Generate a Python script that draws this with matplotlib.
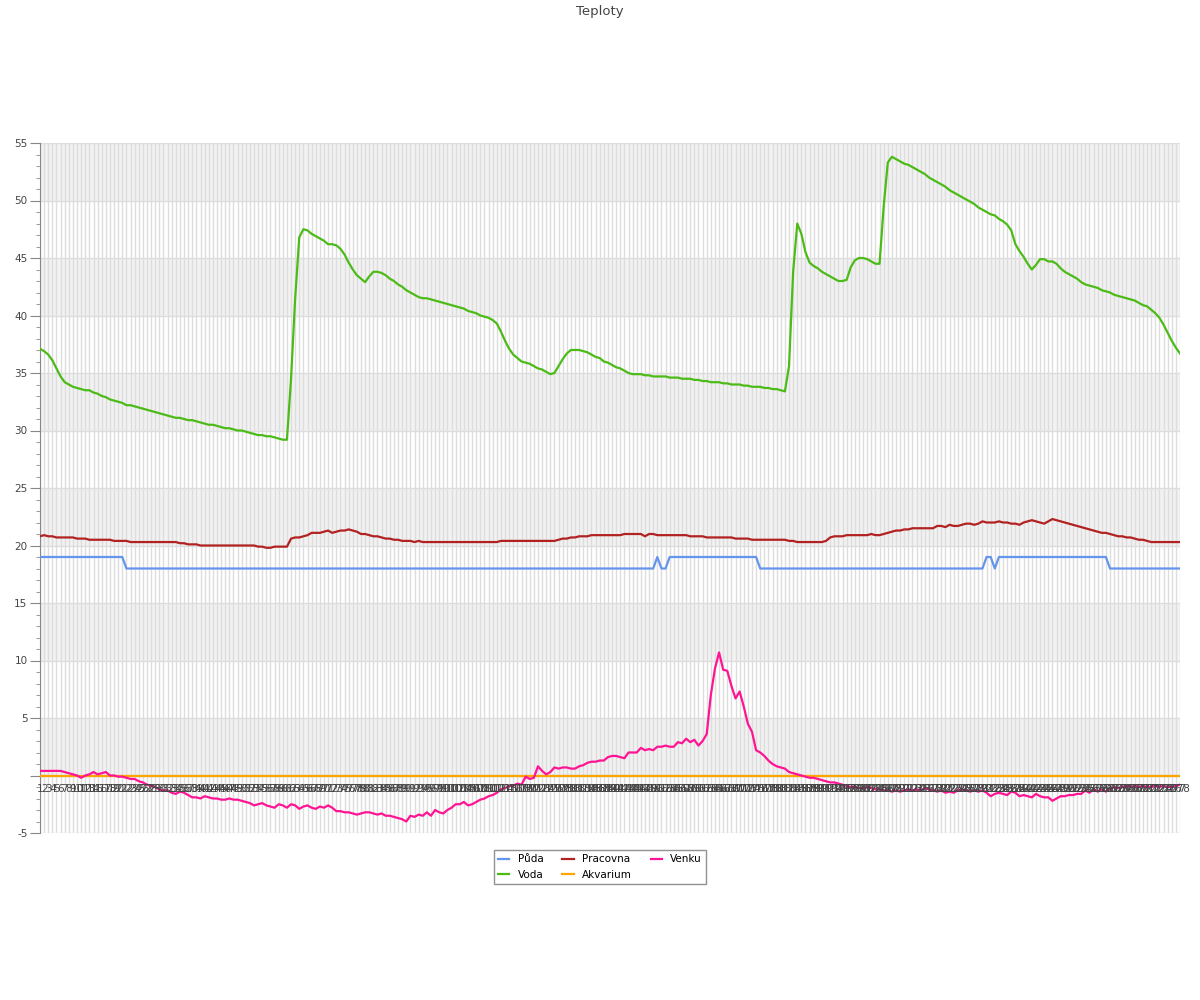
import matplotlib
matplotlib.use("Agg")
import matplotlib.pyplot as plt
from matplotlib import transforms

# categories 1..278 (x axis labels)
labels = [str(i) for i in range(1, 279)]

puda = [19] * 21 + [18] * 129 + [19] + [18] * 2 + [19] * 22 + [18] * 55 + [19] * 2 + [18] + [19] * 27 + [18] * 18

voda = [
    37.1, 36.9, 36.6, 36.1, 35.4, 34.7, 34.2, 34.0, 33.8, 33.7,
    33.6, 33.5, 33.5, 33.3, 33.2, 33.0, 32.9, 32.7, 32.6, 32.5,
    32.4, 32.2, 32.2, 32.1, 32.0, 31.9, 31.8, 31.7, 31.6, 31.5,
    31.4, 31.3, 31.2, 31.1, 31.1, 31.0, 30.9, 30.9, 30.8, 30.7,
    30.6, 30.5, 30.5, 30.4, 30.3, 30.2, 30.2, 30.1, 30.0, 30.0,
    29.9, 29.8, 29.7, 29.6, 29.6, 29.5, 29.5, 29.4, 29.3, 29.2,
    29.2, 34.5, 41.5, 46.8, 47.5, 47.4, 47.1, 46.9, 46.7, 46.5,
    46.2, 46.2, 46.1, 45.8, 45.3, 44.6, 44.0, 43.5, 43.2, 42.9,
    43.4, 43.8, 43.8, 43.7, 43.5, 43.2, 43.0, 42.7, 42.5, 42.2,
    42.0, 41.8, 41.6, 41.5, 41.5, 41.4, 41.3, 41.2, 41.1, 41.0,
    40.9, 40.8, 40.7, 40.6, 40.4, 40.3, 40.2, 40.0, 39.9, 39.8,
    39.6, 39.3, 38.6, 37.8, 37.1, 36.6, 36.3, 36.0, 35.9, 35.8,
    35.6, 35.4, 35.3, 35.1, 34.9, 35.0, 35.6, 36.2, 36.7, 37.0,
    37.0, 37.0, 36.9, 36.8, 36.6, 36.4, 36.3, 36.0, 35.9, 35.7,
    35.5, 35.4, 35.2, 35.0, 34.9, 34.9, 34.9, 34.8, 34.8, 34.7,
    34.7, 34.7, 34.7, 34.6, 34.6, 34.6, 34.5, 34.5, 34.5, 34.4,
    34.4, 34.3, 34.3, 34.2, 34.2, 34.2, 34.1, 34.1, 34.0, 34.0,
    34.0, 33.9, 33.9, 33.8, 33.8, 33.8, 33.7, 33.7, 33.6, 33.6,
    33.5, 33.4, 35.6, 43.8, 48.0, 47.1, 45.5, 44.6, 44.3, 44.1,
    43.8, 43.6, 43.4, 43.2, 43.0, 43.0, 43.1, 44.2, 44.8, 45.0,
    45.0, 44.9, 44.7, 44.5, 44.5, 49.5, 53.3, 53.8, 53.6, 53.4,
    53.2, 53.1, 52.9, 52.7, 52.5, 52.3, 52.0, 51.8, 51.6, 51.4,
    51.2, 50.9, 50.7, 50.5, 50.3, 50.1, 49.9, 49.7, 49.4, 49.2,
    49.0, 48.8, 48.7, 48.4, 48.2, 47.9, 47.4, 46.2, 45.6, 45.1,
    44.5, 44.0, 44.4, 44.9, 44.9, 44.7, 44.7, 44.5, 44.1, 43.8,
    43.6, 43.4, 43.2, 42.9, 42.7, 42.6, 42.5, 42.4, 42.2, 42.1,
    42.0, 41.8, 41.7, 41.6, 41.5, 41.4, 41.3, 41.1, 40.9, 40.8,
    40.5, 40.2, 39.8, 39.2, 38.5, 37.8, 37.2, 36.7,
]

pracovna = [
    20.8, 20.9, 20.8, 20.8, 20.7, 20.7, 20.7, 20.7, 20.7, 20.6,
    20.6, 20.6, 20.5, 20.5, 20.5, 20.5, 20.5, 20.5, 20.4, 20.4,
    20.4, 20.4, 20.3, 20.3, 20.3, 20.3, 20.3, 20.3, 20.3, 20.3,
    20.3, 20.3, 20.3, 20.3, 20.2, 20.2, 20.1, 20.1, 20.1, 20.0,
    20.0, 20.0, 20.0, 20.0, 20.0, 20.0, 20.0, 20.0, 20.0, 20.0,
    20.0, 20.0, 20.0, 19.9, 19.9, 19.8, 19.8, 19.9, 19.9, 19.9,
    19.9, 20.6, 20.7, 20.7, 20.8, 20.9, 21.1, 21.1, 21.1, 21.2,
    21.3, 21.1, 21.2, 21.3, 21.3, 21.4, 21.3, 21.2, 21.0, 21.0,
    20.9, 20.8, 20.8, 20.7, 20.6, 20.6, 20.5, 20.5, 20.4, 20.4,
    20.4, 20.3, 20.4, 20.3, 20.3, 20.3, 20.3, 20.3, 20.3, 20.3,
    20.3, 20.3, 20.3, 20.3, 20.3, 20.3, 20.3, 20.3, 20.3, 20.3,
    20.3, 20.3, 20.4, 20.4, 20.4, 20.4, 20.4, 20.4, 20.4, 20.4,
    20.4, 20.4, 20.4, 20.4, 20.4, 20.4, 20.5, 20.6, 20.6, 20.7,
    20.7, 20.8, 20.8, 20.8, 20.9, 20.9, 20.9, 20.9, 20.9, 20.9,
    20.9, 20.9, 21.0, 21.0, 21.0, 21.0, 21.0, 20.8, 21.0, 21.0,
    20.9, 20.9, 20.9, 20.9, 20.9, 20.9, 20.9, 20.9, 20.8, 20.8,
    20.8, 20.8, 20.7, 20.7, 20.7, 20.7, 20.7, 20.7, 20.7, 20.6,
    20.6, 20.6, 20.6, 20.5, 20.5, 20.5, 20.5, 20.5, 20.5, 20.5,
    20.5, 20.5, 20.4, 20.4, 20.3, 20.3, 20.3, 20.3, 20.3, 20.3,
    20.3, 20.4, 20.7, 20.8, 20.8, 20.8, 20.9, 20.9, 20.9, 20.9,
    20.9, 20.9, 21.0, 20.9, 20.9, 21.0, 21.1, 21.2, 21.3, 21.3,
    21.4, 21.4, 21.5, 21.5, 21.5, 21.5, 21.5, 21.5, 21.7, 21.7,
    21.6, 21.8, 21.7, 21.7, 21.8, 21.9, 21.9, 21.8, 21.9, 22.1,
    22.0, 22.0, 22.0, 22.1, 22.0, 22.0, 21.9, 21.9, 21.8, 22.0,
    22.1, 22.2, 22.1, 22.0, 21.9, 22.1, 22.3, 22.2, 22.1, 22.0,
    21.9, 21.8, 21.7, 21.6, 21.5, 21.4, 21.3, 21.2, 21.1, 21.1,
    21.0, 20.9, 20.8, 20.8, 20.7, 20.7, 20.6, 20.5, 20.5, 20.4,
    20.3, 20.3, 20.3, 20.3, 20.3, 20.3, 20.3, 20.3,
]

akvarium = [0] * 278

venku = [
    0.4, 0.4, 0.4, 0.4, 0.4, 0.4, 0.3, 0.2, 0.1, 0.0,
    -0.2, 0.0, 0.1, 0.3, 0.1, 0.2, 0.3, 0.0, 0.0, -0.1,
    -0.1, -0.2, -0.3, -0.3, -0.5, -0.6, -0.8, -0.9, -1.0, -1.2,
    -1.3, -1.3, -1.5, -1.6, -1.4, -1.5, -1.7, -1.9, -1.9, -2.0,
    -1.8, -1.9, -2.0, -2.0, -2.1, -2.1, -2.0, -2.1, -2.1, -2.2,
    -2.3, -2.4, -2.6, -2.5, -2.4, -2.6, -2.7, -2.8, -2.5, -2.6,
    -2.8, -2.5, -2.6, -2.9, -2.7, -2.6, -2.8, -2.9, -2.7, -2.8,
    -2.6, -2.8, -3.1, -3.1, -3.2, -3.2, -3.3, -3.4, -3.3, -3.2,
    -3.2, -3.3, -3.4, -3.3, -3.5, -3.5, -3.6, -3.7, -3.8, -4.0,
    -3.5, -3.6, -3.4, -3.5, -3.2, -3.5, -3.0, -3.2, -3.3, -3.0,
    -2.8, -2.5, -2.5, -2.3, -2.6, -2.5, -2.3, -2.1, -2.0, -1.8,
    -1.7, -1.5, -1.2, -1.1, -0.9, -0.9, -0.7, -0.8, -0.1, -0.3,
    -0.2, 0.8, 0.4, 0.1, 0.3, 0.7, 0.6, 0.7, 0.7, 0.6,
    0.6, 0.8, 0.9, 1.1, 1.2, 1.2, 1.3, 1.3, 1.6, 1.7,
    1.7, 1.6, 1.5, 2.0, 2.0, 2.0, 2.4, 2.2, 2.3, 2.2,
    2.5, 2.5, 2.6, 2.5, 2.5, 2.9, 2.8, 3.2, 2.9, 3.1,
    2.6, 3.0, 3.6, 7.0, 9.3, 10.7, 9.2, 9.1, 7.8, 6.7,
    7.3, 6.0, 4.5, 3.8, 2.2, 2.0, 1.7, 1.3, 1.0, 0.8,
    0.7, 0.6, 0.3, 0.2, 0.1, 0.0, -0.1, -0.2, -0.2, -0.3,
    -0.4, -0.5, -0.6, -0.6, -0.7, -0.8, -0.9, -1.0, -1.0, -1.1,
    -1.1, -1.0, -1.1, -1.2, -1.2, -1.3, -1.3, -1.4, -1.3, -1.4,
    -1.3, -1.2, -1.3, -1.2, -1.3, -1.1, -1.2, -1.3, -1.4, -1.3,
    -1.5, -1.4, -1.5, -1.3, -1.2, -1.3, -1.4, -1.3, -1.4, -1.3,
    -1.5, -1.8, -1.6, -1.5, -1.6, -1.7, -1.4, -1.5, -1.8, -1.7,
    -1.8, -1.9, -1.6, -1.8, -1.9, -1.9, -2.2, -2.0, -1.8, -1.8,
    -1.7, -1.7, -1.6, -1.6, -1.3, -1.5, -1.2, -1.4, -1.2, -1.4,
    -1.1, -1.0, -1.1, -1.0, -0.9, -1.0, -0.9, -1.0, -0.9, -1.0,
    -1.0, -0.9, -1.0, -0.9, -1.0, -1.0, -0.9, -0.8,
]

series = [
    ("Půda", puda, "#6495ed"),
    ("Voda", voda, "#4cbb17"),
    ("Pracovna", pracovna, "#b22222"),
    ("Akvarium", akvarium, "#ffa500"),
    ("Venku", venku, "#ff1493"),
]

x = list(range(len(labels)))

fig = plt.figure(figsize=(12, 10), dpi=100)
ax = fig.add_axes([40 / 1200, 167 / 1000, 1140 / 1200, 690 / 1000])

ax.set_xlim(0, len(labels) - 1)
ax.set_ylim(-5, 55)

# alternating bands
for lo in range(0, 55, 10):
    ax.axhspan(lo, lo + 5, color="#f2f2f2", zorder=0, lw=0)

# grid
ax.set_xticks(x)
ax.set_yticks(range(-5, 56, 5))
ax.set_yticks(range(-5, 56), minor=True)
ax.grid(True, which="major", color="#dddddd", lw=1)
ax.set_axisbelow(True)
ax.tick_params(axis="x", length=0, labelbottom=False)
ax.tick_params(axis="y", which="major", length=7, pad=2, color="#888888",
               labelcolor="#444444", labelsize=7.5)
ax.tick_params(axis="y", which="minor", length=3, color="#888888")
ax.set_yticklabels(["" if v == 0 else str(v) for v in range(-5, 56, 5)])

for side in ["top", "right", "bottom"]:
    ax.spines[side].set_visible(False)
ax.spines["left"].set_color("#888888")

# zero line (category axis)
ax.axhline(0, color="#999999", lw=1.5, zorder=2)

for name, vals, col in series:
    ax.plot(x, vals, color=col, lw=1.6, label=name, zorder=3)

# category labels drawn at the zero line
off = transforms.offset_copy(ax.transData, fig=fig, y=-13, units="dots")
for i, lab in enumerate(labels):
    ax.text(i, 0, lab, transform=off, ha="center", va="center",
            fontsize=7.5, color="#444444", zorder=4)

fig.suptitle("Teploty", y=0.995, fontsize=9.5, color="#444444")

leg = fig.legend(loc="upper center", bbox_to_anchor=(0.5, 0.155), ncol=3,
                 fontsize=7.5, frameon=True, fancybox=False, handlelength=1.1,
                 handletextpad=0.8, columnspacing=1.8, borderpad=0.4,
                 labelspacing=0.5)
leg.get_frame().set_edgecolor("#777777")
leg.get_frame().set_linewidth(1)

fig.savefig("out.png", dpi=100)
